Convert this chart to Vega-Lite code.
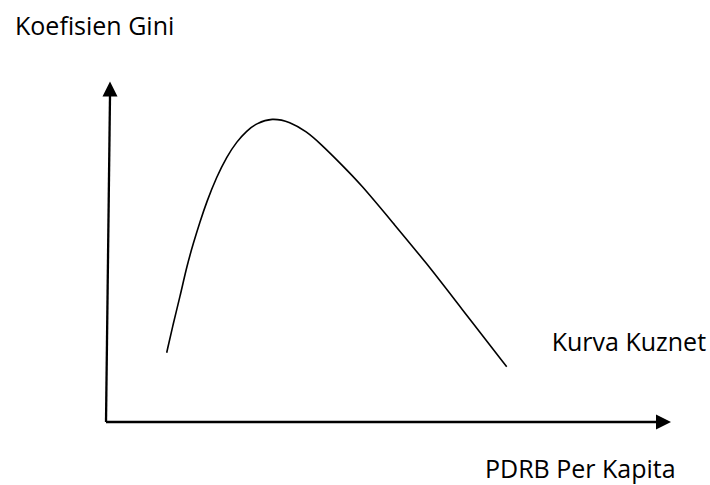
{
  "$schema": "https://vega.github.io/schema/vega-lite/v6.json",
  "width": 710,
  "height": 485,
  "padding": 0,
  "autosize": {"type": "fit", "contains": "padding"},
  "background": "white",
  "config": {"view": {"stroke": null}},
  "datasets": {
    "curve": [
      {"x": 60.7, "y": 69.3},
      {"x": 67.3, "y": 98.7},
      {"x": 74, "y": 125.3},
      {"x": 80.7, "y": 155.3},
      {"x": 87.3, "y": 178.7},
      {"x": 94, "y": 200.3},
      {"x": 100.7, "y": 220.3},
      {"x": 110.7, "y": 245.3},
      {"x": 120.7, "y": 265.3},
      {"x": 130.7, "y": 280.3},
      {"x": 140.7, "y": 291.3},
      {"x": 150.7, "y": 298.7},
      {"x": 165.7, "y": 304.2},
      {"x": 184, "y": 300.3},
      {"x": 200.7, "y": 290.3},
      {"x": 214, "y": 278.7},
      {"x": 234, "y": 259},
      {"x": 254, "y": 238.7},
      {"x": 287.3, "y": 198.7},
      {"x": 320.7, "y": 158.7},
      {"x": 354, "y": 115.3},
      {"x": 400.7, "y": 55.3}
    ],
    "axes": [
      {"x": 0, "y": 0, "x2": 4, "y2": 326},
      {"x": 0, "y": 0, "x2": 550, "y2": 0}
    ],
    "heads": [
      {"x": 4, "y": 333, "shape": "M0,-1L1,1L-1,1Z"},
      {"x": 557.5, "y": 0, "shape": "M1,0L-1,-1L-1,1Z"}
    ],
    "labels": [
      {"x": -91, "y": 387, "label": "Koefisien Gini"},
      {"x": 445.7, "y": 71, "label": "Kurva Kuznet"},
      {"x": 379, "y": -56, "label": "PDRB Per Kapita"}
    ]
  },
  "encoding": {
    "x": {"field": "x", "type": "quantitative", "scale": {"domain": [-106, 604], "nice": false, "zero": false}, "axis": null},
    "y": {"field": "y", "type": "quantitative", "scale": {"domain": [-63, 422], "nice": false, "zero": false}, "axis": null}
  },
  "layer": [
    {
      "data": {"name": "curve"},
      "mark": {"type": "line", "color": "black", "strokeWidth": 1.6, "interpolate": "basis"},
      "encoding": {}
    },
    {
      "data": {"name": "axes"},
      "mark": {"type": "rule", "color": "black", "strokeWidth": 2.3},
      "encoding": {
        "x2": {"field": "x2"},
        "y2": {"field": "y2"}
      }
    },
    {
      "data": {"name": "heads"},
      "mark": {"type": "point", "filled": true, "color": "black", "opacity": 1, "size": 225, "strokeWidth": 0},
      "encoding": {
        "shape": {"field": "shape", "type": "nominal", "scale": null}
      }
    },
    {
      "data": {"name": "labels"},
      "mark": {"type": "text", "align": "left", "baseline": "alphabetic", "font": "Open Sans", "fontSize": 25, "color": "black"},
      "encoding": {
        "text": {"field": "label"}
      }
    }
  ]
}
